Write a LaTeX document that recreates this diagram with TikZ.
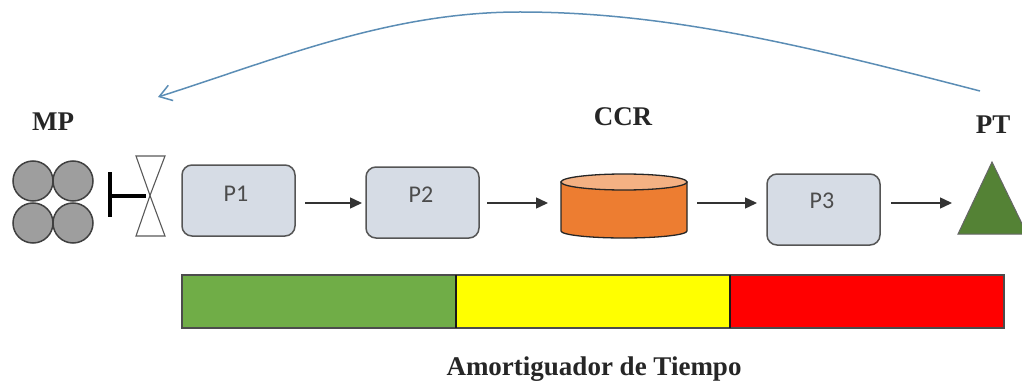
\documentclass[tikz,border=0pt]{standalone}
\usepackage{fontspec}
\setmainfont{Liberation Serif}
\newfontfamily\procfont{Carlito}
\usetikzlibrary{arrows.meta,calc}
\definecolor{procfill}{HTML}{D6DCE5}
\definecolor{procline}{HTML}{555555}
\definecolor{loopblue}{HTML}{5B8DB5}
\definecolor{ccrbody}{HTML}{ED7D31}
\definecolor{ccrtop}{HTML}{F4B183}
\definecolor{ptgreen}{HTML}{548235}
\definecolor{bargreen}{HTML}{70AD47}
\definecolor{baryellow}{HTML}{FFFF00}
\definecolor{barred}{HTML}{FF0000}
\tikzset{
  procbox/.style={draw=procline,line width=1.5pt,fill=procfill,rounded corners=10pt,minimum width=113pt,minimum height=71pt,inner sep=0pt,outer sep=0pt,anchor=north west},
  stone/.style={circle,draw=black!75,line width=1.5pt,fill=black!38,minimum size=40pt,inner sep=0pt,outer sep=0pt},
  flow/.style={-{Triangle[length=12pt,width=11pt]},draw=black!80,line width=1.4pt},
  barpart/.style={draw=black!70,line width=1.4pt,minimum height=53pt,minimum width=274pt,inner sep=0pt,outer sep=0pt,anchor=north west},
  heading/.style={font=\bfseries\fontsize{27}{29}\selectfont,inner sep=0pt,anchor=base,text=black!85},
  plabel/.style={font=\procfont\fontsize{24}{26}\selectfont,text=black!70,inner sep=0pt},
}
\begin{document}
\begin{tikzpicture}[x=1pt,y=-1pt]
\useasboundingbox (0,0) rectangle (1022,385);
% buffer bar
\node[barpart,fill=bargreen] (g) at (182,275) {};
\node[barpart,fill=baryellow] (y) at (456,275) {};
\node[barpart,fill=barred] (r) at (730,275) {};
\draw[line width=2.6pt,draw=black!90] (g.north east) -- (g.south east);
\draw[line width=2.6pt,draw=black!90] (y.north east) -- (y.south east);
% raw material
\node[stone] (s1) at (33,181) {};
\node[stone] (s2) at (73,181) {};
\node[stone] (s3) at (33,223) {};
\node[stone] (s4) at (73,223) {};
% valve
\coordinate (vc) at (150,195.5);
\draw[draw=black!65,line width=1.1pt,fill=white] (136,156) -- (165,156) -- (vc) -- cycle;
\draw[draw=black!65,line width=1.1pt,fill=white] (136,236) -- (165,236) -- (vc) -- cycle;
% rope
\coordinate (ta) at (110,172);
\coordinate (tb) at (110,217);
\coordinate (tc) at (110,195.5);
\coordinate (td) at (146,195.5);
\draw[line width=4pt] (ta) -- (tb);
\draw[line width=4pt] (tc) -- (td);
% processes
\node[procbox] (p1) at (182,165) {};
\node[plabel] at (236,194) {P1};
\node[procbox] (p2) at (366,167) {};
\node[plabel] at (421,195) {P2};
\node[procbox] (p3) at (767,174) {};
\node[plabel] at (822,201) {P3};
% CCR
\node[minimum width=126pt,minimum height=64pt,inner sep=0pt,outer sep=0pt] (ccr) at (624,206) {};
\draw[draw=black!85,line width=1.3pt,fill=ccrbody] (561,182) -- (561,231) arc[start angle=180,end angle=360,x radius=63,y radius=-7] -- (687,182) -- cycle;
\draw[draw=black!85,line width=1.3pt,fill=ccrtop] (624,182) ellipse[x radius=63,y radius=8];
% finished product
\coordinate (pta) at (992,162);
\coordinate (ptb) at (958,234);
\coordinate (ptc) at (1027,234);
\draw[draw=black!60,line width=1pt,fill=ptgreen] (pta) -- (ptb) -- (ptc) -- cycle;
% flows
\coordinate (ptin) at (952,203);
\draw[flow] ([shift={(10,2.5)}]p1.east) -- ([shift={(-4,0.5)}]p2.west);
\draw[flow] ([shift={(8,0.5)}]p2.east) -- ([shift={(-13,-3)}]ccr.west);
\draw[flow] ([shift={(10,-3)}]ccr.east) -- ([shift={(-10,-6.5)}]p3.west);
\draw[flow] ([shift={(11,-6.5)}]p3.east) -- (ptin);
% feedback
\coordinate (fbs) at (980,91);
\coordinate (fbm) at (520,12);
\coordinate (fbe) at (158,97);
\draw[-{Straight Barb[length=12pt,width=16pt]},draw=loopblue,line width=1.5pt] (fbs) .. controls (810,47) and (670,12) .. (fbm) .. controls (390,12) and (280,58) .. (fbe);
% labels
\node[heading] (mp) at (53,131) {MP};
\node[heading] (ccrl) at (623,125) {CCR};
\node[heading] (pt) at (993,134) {PT};
\node[heading] (am) at (594,375) {Amortiguador de Tiempo};
\end{tikzpicture}
\end{document}
